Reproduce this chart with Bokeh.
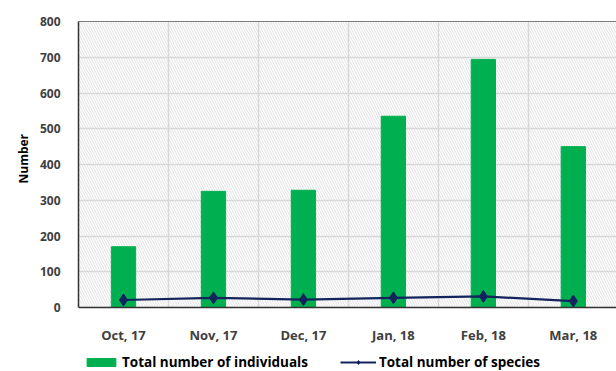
from bokeh.plotting import figure
from bokeh.models import (Range1d, FixedTicker, BoxAnnotation, Legend, LegendItem, Span, Title)
from bokeh.embed import file_html
from bokeh.resources import INLINE

months = ["Oct, 17", "Nov, 17", "Dec, 17", "Jan, 18", "Feb, 18", "Mar, 18"]
individuals = [170, 325, 328, 535, 694, 450]
species = [21, 27, 22, 27, 31, 18]
y_ticks = [0, 100, 200, 300, 400, 500, 600, 700, 800]

xs = [i + 0.5 for i in range(len(months))]

p = figure(width=616, height=371, output_backend="svg", toolbar_location=None,
           x_range=Range1d(0, 5.98), y_range=Range1d(-179, 800),
           min_border_left=78, min_border_right=0, min_border_top=21, min_border_bottom=0)
p.background_fill_color = "white"
p.border_fill_color = "white"
p.outline_line_color = None

hatch = BoxAnnotation(bottom=0, top=800, fill_alpha=0, hatch_pattern="\\", hatch_color="#d6d6d6",
                      hatch_scale=5, hatch_weight=0.7, line_alpha=0, level="underlay")
p.add_layout(hatch)

p.ygrid.ticker = FixedTicker(ticks=y_ticks)
p.ygrid.grid_line_color = "#d9d9d9"
p.ygrid.grid_line_width = 1.5
p.xgrid.ticker = FixedTicker(ticks=[1, 2, 3, 4, 5])
p.xgrid.grid_line_color = "#d9d9d9"
p.xgrid.grid_line_width = 1.5

# white cover below the zero line
p.add_layout(BoxAnnotation(top=0, fill_color="white", fill_alpha=1, line_alpha=0, level="underlay"))
p.add_layout(Span(location=800, dimension="width", line_color="#000000", line_width=1.2))

bars = p.vbar(x=xs, top=individuals, width=0.27, fill_color="#00b050", line_color="#00b050")
ln = p.line(xs, species, line_color="#13235b", line_width=2.2)
sc = p.scatter(xs, species, marker="diamond", size=12, fill_color="#13235b", line_color="#13235b")

p.xaxis.ticker = FixedTicker(ticks=xs)
p.xaxis.major_label_overrides = {x: m for x, m in zip(xs, months)}
p.xaxis.fixed_location = 0
p.yaxis.ticker = FixedTicker(ticks=y_ticks)
p.yaxis.bounds = (0, 800)
for ax in (p.xaxis, p.yaxis):
    ax.major_tick_line_color = None
    ax.minor_tick_line_color = None
    ax.axis_line_color = "#333333"
    ax.axis_line_width = 1.5
    ax.major_label_text_font = "Open Sans"
    ax.major_label_text_font_style = "bold"
    ax.major_label_text_color = "#404040"
p.yaxis.major_label_text_font_size = "12px"
p.xaxis.major_label_text_font_size = "13px"
p.xaxis.major_label_standoff = 12
p.yaxis.major_label_standoff = 12

p.add_layout(Title(text="Number", align="left", offset=188, text_font="Open Sans",
                   text_font_style="bold", text_font_size="12px", text_color="#000000"), "left")

legend = Legend(items=[LegendItem(label="Total number of individuals", renderers=[bars]),
                       LegendItem(label="Total number of species", renderers=[ln, sc])],
                orientation="horizontal", location=(5, 0),
                label_text_font="Open Sans", label_text_font_style="bold",
                label_text_font_size="13.5px", label_text_color="#000000",
                glyph_width=36, glyph_height=10, spacing=32, padding=0, margin=0,
                label_height=14, border_line_alpha=0, background_fill_alpha=0, label_standoff=3)
p.add_layout(legend, "center")

open("out.html", "w").write(file_html(p, INLINE))
